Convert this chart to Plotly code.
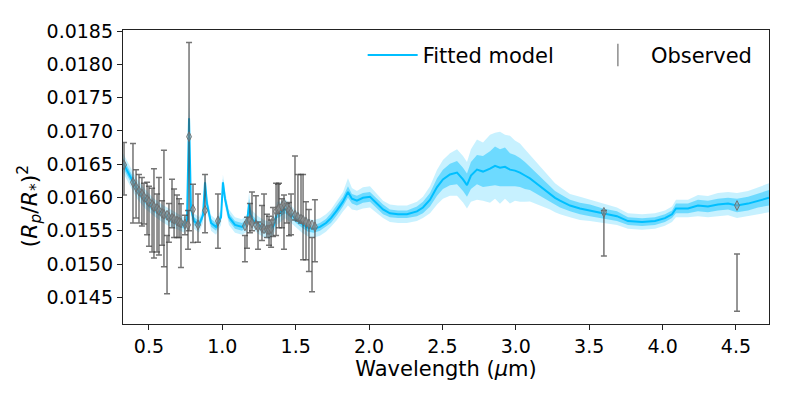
import numpy as np
import plotly.graph_objects as go

# Spettro del modello: lunghezza d'onda (um), valore centrale di (Rp/R*)^2
model_wl = [
    0.323, 0.371, 0.418, 0.473, 0.527, 0.589, 0.643, 0.698, 0.739, 0.759,
    0.766, 0.773, 0.780, 0.786, 0.807, 0.841, 0.868, 0.882, 0.895, 0.923,
    0.957, 0.991, 1.004, 1.018, 1.045, 1.086, 1.134, 1.168, 1.182, 1.195,
    1.243, 1.284, 1.325, 1.352, 1.372, 1.400, 1.427, 1.461, 1.502, 1.543,
    1.584, 1.625, 1.665, 1.706, 1.740, 1.781, 1.822, 1.856, 1.883, 1.917,
    1.958, 2.006, 2.054, 2.095, 2.142, 2.197, 2.258, 2.326, 2.367, 2.415,
    2.463, 2.503, 2.551, 2.599, 2.640, 2.667, 2.694, 2.735, 2.776, 2.824,
    2.858, 2.892, 2.926, 2.960, 2.994, 3.028, 3.062, 3.096, 3.130, 3.164,
    3.199, 3.233, 3.267, 3.301, 3.369, 3.437, 3.505, 3.594, 3.689, 3.764,
    3.860, 3.948, 4.016, 4.064, 4.091, 4.173, 4.241, 4.309, 4.377, 4.446,
    4.507, 4.582, 4.650, 4.725,
]
model_mid = [
    0.016520, 0.016316, 0.016126, 0.015981, 0.015864, 0.015762, 0.015690, 0.015631, 0.015588, 0.015646,
    0.016490, 0.017189, 0.016490, 0.015835, 0.015646, 0.015588, 0.015733, 0.016228, 0.015908, 0.015617,
    0.015558, 0.015704, 0.016228, 0.015981, 0.015704, 0.015588, 0.015558, 0.015617, 0.015908, 0.015690,
    0.015588, 0.015529, 0.015500, 0.015588, 0.015762, 0.015791, 0.015835, 0.015762, 0.015675, 0.015602,
    0.015544, 0.015529, 0.015558, 0.015617, 0.015690, 0.015806, 0.015937, 0.016083, 0.015981, 0.015952,
    0.015995, 0.016010, 0.015908, 0.015821, 0.015762, 0.015748, 0.015748, 0.015791, 0.015850, 0.015966,
    0.016156, 0.016272, 0.016345, 0.016374, 0.016272, 0.016185, 0.016330, 0.016418, 0.016389, 0.016432,
    0.016476, 0.016447, 0.016461, 0.016418, 0.016403, 0.016374, 0.016330, 0.016287, 0.016228, 0.016170,
    0.016112, 0.016054, 0.015995, 0.015952, 0.015879, 0.015835, 0.015806, 0.015762, 0.015719, 0.015646,
    0.015631, 0.015646, 0.015690, 0.015748, 0.015835, 0.015835, 0.015879, 0.015864, 0.015893, 0.015908,
    0.015879, 0.015908, 0.015952, 0.015995,
]
# semiampiezze delle bande (1 sigma interna, 2 sigma esterna), in ppm
model_sig1_ppm = [
    73, 73, 73, 73, 73, 58, 58, 58, 58, 58,
    146, 175, 146, 73, 58, 58, 58, 73, 58, 58,
    58, 58, 58, 58, 58, 58, 58, 58, 73, 58,
    58, 58, 58, 58, 73, 73, 73, 58, 58, 58,
    58, 58, 58, 58, 73, 73, 73, 87, 73, 73,
    73, 73, 73, 73, 58, 58, 58, 73, 87, 102,
    131, 146, 160, 175, 175, 175, 204, 218, 233, 262,
    291, 277, 291, 248, 233, 218, 204, 175, 160, 146,
    131, 116, 102, 102, 87, 87, 87, 73, 73, 58,
    58, 58, 58, 58, 73, 73, 87, 87, 87, 87,
    102, 102, 102, 116,
]
model_sig2_ppm = [
    146, 146, 146, 146, 131, 131, 131, 116, 116, 116,
    291, 437, 291, 146, 116, 116, 116, 146, 116, 116,
    116, 116, 116, 116, 116, 116, 116, 131, 175, 131,
    131, 131, 131, 131, 175, 146, 146, 131, 131, 131,
    131, 131, 131, 131, 131, 146, 146, 204, 160, 146,
    160, 160, 146, 131, 131, 131, 131, 146, 160, 204,
    262, 291, 320, 349, 349, 349, 393, 452, 437, 510,
    495, 540, 481, 510, 452, 437, 393, 349, 320, 291,
    262, 233, 218, 204, 175, 175, 160, 146, 131, 116,
    116, 116, 116, 116, 131, 131, 160, 160, 175, 175,
    189, 189, 204, 218,
]

# Dati osservati
obs_wl = [
    0.330, 0.391, 0.412, 0.432, 0.452, 0.466, 0.487, 0.500, 0.521, 0.534,
    0.555, 0.568, 0.589, 0.602, 0.623, 0.636, 0.657, 0.671, 0.691, 0.705,
    0.718, 0.745, 0.766, 0.773, 0.800, 0.834, 0.882, 0.970,
    1.154, 1.168, 1.188, 1.202, 1.229, 1.243, 1.270, 1.284, 1.304, 1.318,
    1.332, 1.345, 1.366, 1.379, 1.386, 1.406, 1.420, 1.440, 1.454, 1.468,
    1.495, 1.515, 1.536, 1.550, 1.570, 1.590, 1.611, 1.631,
    3.600, 4.507,
]
obs_depth = [
    0.016432, 0.016214, 0.016054, 0.015981, 0.015937, 0.015908, 0.015835, 0.015719, 0.015660, 0.015762,
    0.015617, 0.015719, 0.015617, 0.015835, 0.014991, 0.015617, 0.015908, 0.015762, 0.015719, 0.015690,
    0.015427, 0.015588, 0.015515, 0.016913, 0.015762, 0.015690, 0.015908, 0.015646,
    0.015231, 0.015471, 0.015690, 0.015791, 0.015821, 0.015427, 0.015617, 0.015791, 0.015573, 0.015500,
    0.015457, 0.015631, 0.015821, 0.015981, 0.015879, 0.015762, 0.015631, 0.015762, 0.015675, 0.015748,
    0.016141, 0.015995, 0.015981, 0.015704, 0.015500, 0.015355, 0.014991, 0.015500,
    0.015464, 0.014721,
]
obs_err = [
    0.000393, 0.000597, 0.000364, 0.000364, 0.000364, 0.000306, 0.000393, 0.000451, 0.000480, 0.000670,
    0.000437, 0.000582, 0.000335, 0.000874, 0.000437, 0.000291, 0.000364, 0.000364, 0.000320, 0.000291,
    0.000480, 0.000146, 0.000291, 0.001413, 0.000437, 0.000364, 0.000437, 0.000408,
    0.000197, 0.000233, 0.000218, 0.000291, 0.000204, 0.000204, 0.000262, 0.000262, 0.000175, 0.000218,
    0.000204, 0.000218, 0.000393, 0.000218, 0.000335, 0.000218, 0.000408, 0.000146, 0.000248, 0.000306,
    0.000480, 0.000350, 0.000364, 0.000641, 0.000437, 0.000466, 0.000408, 0.000466,
    0.000342, 0.000430,
]
# modello mediato sulle bande degli strumenti (rombi grigi)
binned_depth = [
    0.016490, 0.016228, 0.016156, 0.016097, 0.016054, 0.016010, 0.015966, 0.015937, 0.015893, 0.015864,
    0.015835, 0.015806, 0.015762, 0.015748, 0.015733, 0.015704, 0.015690, 0.015675, 0.015646, 0.015631,
    0.015617, 0.015602, 0.015588, 0.016913, 0.015821, 0.015588, 0.015806, 0.015646,
    0.015573, 0.015631, 0.015660, 0.015617, 0.015588, 0.015558, 0.015544, 0.015529, 0.015515, 0.015515,
    0.015529, 0.015646, 0.015791, 0.015821, 0.015835, 0.015864, 0.015908, 0.015850, 0.015806, 0.015777,
    0.015733, 0.015704, 0.015675, 0.015660, 0.015631, 0.015602, 0.015588, 0.015558,
    0.015777, 0.015879,
]

X_TICKS = [0.5, 1.0, 1.5, 2.0, 2.5, 3.0, 3.5, 4.0, 4.5]
Y_TICKS = [0.0145, 0.0150, 0.0155, 0.0160, 0.0165, 0.0170, 0.0175, 0.0180, 0.0185]

BLUE = "#00BFFF"

mid = np.array(model_mid)
sig1 = np.array(model_sig1_ppm) * 1e-6
sig2 = np.array(model_sig2_ppm) * 1e-6

fig = go.Figure()

# banda esterna (2 sigma) e interna (1 sigma)
for sig, alpha in [(sig2, 0.22), (sig1, 0.45)]:
    fig.add_trace(go.Scatter(
        x=model_wl, y=mid - sig, mode="lines",
        line=dict(width=0, color=BLUE), showlegend=False, hoverinfo="skip"
    ))
    fig.add_trace(go.Scatter(
        x=model_wl, y=mid + sig, mode="lines", fill="tonexty",
        fillcolor=f"rgba(0,191,255,{alpha})",
        line=dict(width=0, color=BLUE), showlegend=False, hoverinfo="skip"
    ))

fig.add_trace(go.Scatter(
    x=model_wl, y=model_mid, mode="lines", name="Fitted model",
    line=dict(color=BLUE, width=2), legend="legend"
))

fig.add_trace(go.Scatter(
    x=obs_wl, y=obs_depth, mode="markers", showlegend=False,
    marker=dict(size=1, color="rgba(0,0,0,0)"),
    error_y=dict(type="data", array=obs_err, color="rgba(70,70,70,0.75)",
                 thickness=1.5, width=3)
))

fig.add_trace(go.Scatter(
    x=obs_wl, y=binned_depth, mode="markers", showlegend=False,
    marker=dict(symbol="diamond-tall", size=7, color="rgba(150,150,150,0.5)",
                line=dict(color="rgba(110,110,110,0.9)", width=1))
))

# voce di legenda per i dati osservati
fig.add_trace(go.Scatter(
    x=[None], y=[None], mode="markers", name="Observed", legend="legend2",
    marker=dict(symbol="line-ns-open", size=20, color="rgba(90,90,90,0.8)",
                line=dict(color="rgba(90,90,90,0.8)", width=1.3))
))

axis_common = dict(
    showline=True, linecolor="#222", linewidth=1.3, mirror=True,
    ticks="outside", ticklen=5, tickwidth=1.2, tickcolor="#222",
    showgrid=False, zeroline=False,
    tickfont=dict(size=19, color="black"),
)

fig.update_xaxes(
    range=[0.323, 4.725], tickvals=X_TICKS, tickformat=".1f",
    title=dict(text="Wavelength (<i>μ</i>m)", font=dict(size=21), standoff=4),
    **axis_common
)
fig.update_yaxes(
    range=[0.01410, 0.018515], tickvals=Y_TICKS, tickformat=".4f",
    **axis_common
)

# titolo asse y come annotazione (centrato un po' più in basso, come nell'originale)
fig.add_annotation(
    text="(<i>R</i><sub><i>p</i></sub>/<i>R</i><sub>*</sub>)<sup>2</sup>",
    xref="paper", yref="paper", x=-0.144, y=0.40,
    xanchor="center", yanchor="middle", textangle=-90,
    showarrow=False, font=dict(size=22, color="black")
)

# la pagina html ha un margine di 8px: la figura viene ridotta di conseguenza
fig.update_layout(
    width=781, height=387,
    margin=dict(l=115, r=20, t=13, b=71),
    plot_bgcolor="white", paper_bgcolor="white",
    font=dict(family="DejaVu Sans", size=18, color="black"),
    legend=dict(x=0.371, y=0.914, xanchor="left", yanchor="middle",
                bgcolor="rgba(0,0,0,0)", itemwidth=50, font=dict(size=21)),
    legend2=dict(x=0.715, y=0.914, xanchor="left", yanchor="middle",
                 bgcolor="rgba(0,0,0,0)", itemwidth=56, font=dict(size=21)),
)

fig.write_html("out.html")
